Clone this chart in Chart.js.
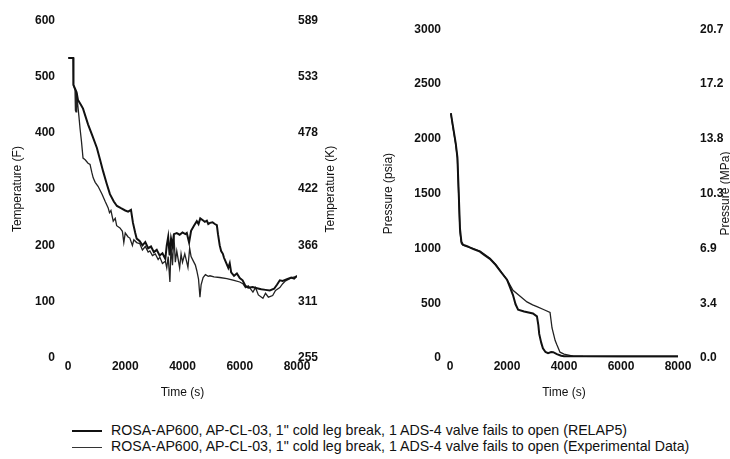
<!DOCTYPE html>
<html>
<head>
<meta charset="utf-8">
<script src="https://cdn.jsdelivr.net/npm/chart.js@4.4.1/dist/chart.umd.min.js"></script>
<style>
  body { margin: 0; background: #fff; }
  #wrap { position: relative; width: 730px; height: 459px; overflow: hidden; font-family: "Liberation Sans", Arial, sans-serif; }
  canvas { position: absolute; top: 0; }
  #tempChart { left: 0; }
  #presChart { left: 365px; }
  .leg { position: absolute; left: 72px; height: 16px; line-height: 16px; font-size: 14.2px; color: #111; white-space: nowrap; }
  .leg span.ln { display: inline-block; width: 30px; vertical-align: middle; margin-right: 9px; }
</style>
</head>
<body>
<div id="wrap">
  <canvas id="tempChart" width="365" height="400"></canvas>
  <canvas id="presChart" width="365" height="400"></canvas>
  <div class="leg" style="top:422px"><span class="ln" style="border-top:2.5px solid #111"></span>ROSA-AP600, AP-CL-03, 1" cold leg break, 1 ADS-4 valve fails to open (RELAP5)</div>
  <div class="leg" style="top:438px"><span class="ln" style="border-top:1px solid #333"></span>ROSA-AP600, AP-CL-03, 1" cold leg break, 1 ADS-4 valve fails to open (Experimental Data)</div>
</div>
<script>
// temperature, RELAP5 (F)
const tempTimeRelap = [10, 185, 190, 250, 300, 350, 450, 525, 700, 850, 1010, 1120, 1230, 1350, 1465, 1600, 1710, 1850, 2000, 2100, 2200, 2270, 2350, 2400, 2500, 2600, 2700, 2800, 2900, 3000, 3100, 3200, 3300, 3400, 3450, 3500, 3550, 3600, 3650, 3700, 3800, 3900, 4000, 4100, 4150, 4230, 4300, 4400, 4500, 4560, 4620, 4700, 4780, 4850, 4900, 4960, 5050, 5130, 5200, 5240, 5300, 5350, 5410, 5450, 5500, 5600, 5650, 5700, 5800, 5900, 6000, 6100, 6200, 6300, 6450, 6600, 6750, 6900, 7050, 7200, 7300, 7400, 7500, 7650, 7800, 7900, 8000];
const tempRelap = [533, 533, 485, 478, 472, 458, 450, 443, 415, 395, 373, 352, 331, 310, 291, 278, 270, 266, 262, 260, 263, 240, 222, 212, 208, 200, 206, 195, 198, 188, 192, 182, 186, 176, 200, 215, 182, 212, 200, 220, 222, 219, 223, 220, 222, 205, 226, 235, 243, 238, 248, 245, 242, 244, 238, 240, 241, 238, 236, 220, 200, 190, 185, 178, 172, 160, 168, 152, 146, 150, 142, 138, 128, 125, 126, 124, 122, 121, 120, 123, 130, 138, 137, 140, 143, 141, 146];

// temperature, experimental (F)
const tempTimeExp = [10, 185, 190, 220, 245, 260, 280, 300, 330, 380, 420, 470, 525, 600, 700, 770, 830, 880, 950, 1050, 1190, 1300, 1400, 1450, 1500, 1580, 1650, 1700, 1815, 1900, 1950, 2000, 2100, 2160, 2250, 2300, 2400, 2510, 2600, 2700, 2800, 2860, 2950, 3050, 3150, 3210, 3300, 3400, 3450, 3500, 3560, 3600, 3650, 3700, 3750, 3800, 3900, 3950, 4000, 4080, 4150, 4190, 4250, 4300, 4370, 4450, 4500, 4560, 4610, 4650, 4720, 4800, 4900, 4960, 5100, 5300, 5550, 5800, 6000, 6110, 6200, 6300, 6460, 6550, 6650, 6810, 6900, 7000, 7150, 7250, 7400, 7500, 7600, 7750, 7850, 8000];
const tempExp = [533, 533, 485, 480, 476, 440, 437, 470, 455, 430, 408, 385, 355, 352, 346, 344, 330, 320, 312, 305, 291, 278, 267, 258, 262, 243, 248, 235, 231, 225, 205, 222, 215, 213, 200, 210, 205, 203, 192, 198, 188, 190, 182, 185, 175, 179, 168, 172, 160, 180, 135, 200, 165, 218, 170, 190, 160, 185, 170, 185, 170, 161, 195, 180, 173, 165, 155, 140, 108, 130, 143, 148, 145, 146, 144, 143, 141, 138, 135, 132, 125, 128, 117, 125, 112, 106, 115, 108, 111, 120, 125, 132, 137, 141, 143, 145];

// pressure, RELAP5 (psia)
const presTimeRelap = [30, 100, 200, 260, 300, 350, 400, 450, 600, 800, 1050, 1200, 1400, 1600, 1800, 2000, 2100, 2210, 2300, 2390, 2600, 2910, 3050, 3100, 3130, 3200, 3260, 3350, 3440, 3550, 3620, 3750, 3900, 4000, 5000, 6000, 7000, 8000];
const presRelap = [2235, 2120, 1960, 1830, 1550, 1180, 1060, 1035, 1020, 995, 970, 940, 905, 850, 780, 715, 650, 574, 490, 441, 425, 406, 380, 300, 220, 140, 88, 55, 44, 55, 53, 35, 20, 16, 15, 15, 15, 15];

// pressure, experimental (psia)
const presTimeExp = [30, 100, 200, 260, 300, 350, 400, 450, 600, 800, 1050, 1200, 1400, 1600, 1800, 2000, 2210, 2450, 2700, 2900, 3050, 3300, 3510, 3580, 3690, 3750, 3860, 4000, 4320, 4670, 6000, 8000];
const presExp = [2230, 2110, 1950, 1820, 1520, 1150, 1045, 1030, 1015, 1000, 975, 948, 910, 855, 785, 715, 618, 565, 512, 485, 468, 440, 415, 274, 159, 120, 53, 35, 18, 14, 12, 12];

// right-hand tick labels
const kelvinLabels = ['255', '311', '366', '422', '478', '533', '589'];
const mpaLabels = ['0.0', '3.4', '6.9', '10.3', '13.8', '17.2', '20.7'];

Chart.defaults.font.family = '"Liberation Sans", Arial, sans-serif';
Chart.defaults.font.size = 12;
Chart.defaults.color = '#111';

const toXY = (xs, ys) => xs.map((x, i) => ({x: x, y: ys[i]}));
const tickFont = { size: 12, weight: 'bold' };

// draws a right-side axis title reading bottom to top
const sideTitle = {
    id: 'sideTitle',
    afterDraw(chart, args, opts) {
        const {ctx, chartArea} = chart;
        ctx.save();
        ctx.translate(opts.x, (chartArea.top + chartArea.bottom) / 2);
        ctx.rotate(-Math.PI / 2);
        ctx.font = '12px "Liberation Sans", Arial, sans-serif';
        ctx.fillStyle = '#111';
        ctx.textAlign = 'center';
        ctx.textBaseline = 'middle';
        ctx.fillText(opts.text, 0, 0);
        ctx.restore();
    }
};

function makeChart(el, cfg) {
    return new Chart(el, {
        type: 'line',
        data: {
            datasets: [
                {
                    label: 'RELAP5',
                    data: toXY(cfg.t1, cfg.v1),
                    borderColor: '#111',
                    borderWidth: 2,
                    pointRadius: 0,
                    tension: 0,
                    fill: false
                },
                {
                    label: 'Experimental Data',
                    data: toXY(cfg.t2, cfg.v2),
                    borderColor: '#222',
                    borderWidth: 1.3,
                    pointRadius: 0,
                    tension: 0,
                    fill: false
                }
            ]
        },
        options: {
            responsive: false,
            animation: false,
            layout: { padding: { top: 18, left: 0, right: 0, bottom: 0 } },
            plugins: {
                legend: { display: false },
                tooltip: { enabled: false },
                sideTitle: { text: cfg.rightTitle, x: cfg.rightTitleX }
            },
            scales: {
                x: {
                    type: 'linear',
                    min: 0,
                    max: 8000,
                    grid: { display: false, drawTicks: false },
                    border: { display: false },
                    ticks: { stepSize: 2000, padding: 1, maxRotation: 0, font: tickFont, callback: v => String(v) },
                    title: { display: true, text: 'Time (s)', padding: { top: 0, bottom: 0 } },
                    afterFit: s => { s.height = 42; }
                },
                y: {
                    position: 'left',
                    min: 0,
                    max: cfg.max,
                    grid: { display: false, drawTicks: false },
                    border: { display: false },
                    ticks: { stepSize: cfg.max / 6, padding: cfg.leftPad, font: tickFont, callback: v => String(v) },
                    title: { display: true, text: cfg.leftTitle, padding: { top: cfg.leftTitlePad, bottom: 0 } },
                    afterFit: s => { s.width = cfg.leftWidth; }
                },
                y1: {
                    position: 'right',
                    min: 0,
                    max: cfg.max,
                    grid: { display: false, drawTicks: false },
                    border: { display: false },
                    ticks: {
                        stepSize: cfg.max / 6,
                        padding: cfg.rightPad,
                        font: tickFont,
                        callback: (v) => cfg.rightLabels[Math.round(v / (cfg.max / 6))]
                    },
                    afterFit: s => { s.width = cfg.rightWidth; }
                }
            }
        },
        plugins: [sideTitle]
    });
}

makeChart(document.getElementById('tempChart'), {
    t1: tempTimeRelap, v1: tempRelap, t2: tempTimeExp, v2: tempExp,
    max: 600, rightLabels: kelvinLabels,
    leftTitle: 'Temperature (F)', rightTitle: 'Temperature (K)',
    leftWidth: 68, rightWidth: 68, leftPad: 13, rightPad: 1,
    leftTitlePad: 10, rightTitleX: 331
});

makeChart(document.getElementById('presChart'), {
    t1: presTimeRelap, v1: presRelap, t2: presTimeExp, v2: presExp,
    max: 3000, rightLabels: mpaLabels,
    leftTitle: 'Pressure (psia)', rightTitle: 'Pressure (MPa)',
    leftWidth: 85, rightWidth: 52, leftPad: 9, rightPad: 22,
    leftTitlePad: 16, rightTitleX: 361
});
</script>
</body>
</html>
